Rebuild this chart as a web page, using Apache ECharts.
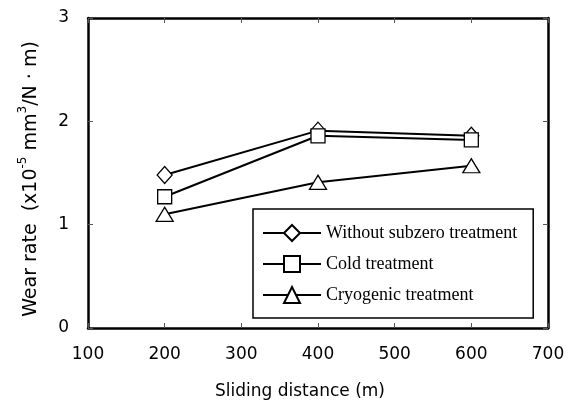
<!DOCTYPE html>
<html>
<head>
<meta charset="utf-8">
<script src="https://cdn.jsdelivr.net/npm/echarts@6/dist/echarts.min.js"></script>
<style>html,body{margin:0;padding:0;background:#fff}#c{width:578px;height:401px}</style>
</head>
<body>
<div id="c"></div>
<script>
// Data
const slidingDistance = [200, 400, 600];
const withoutSubzero = [1.48, 1.91, 1.86];
const coldTreatment = [1.27, 1.86, 1.82];
const cryogenicTreatment = [1.10, 1.41, 1.57];
const seriesNames = ['Without subzero treatment', 'Cold treatment', 'Cryogenic treatment'];
const xTicks = [100, 200, 300, 400, 500, 600, 700];
const yTicks = [0, 1, 2, 3];

const pair = (xs, ys) => xs.map((x, i) => [x, ys[i]]);
const chart = echarts.init(document.getElementById('c'));
const sans = 'DejaVu Sans';
const lineStyle = { color: '#000', width: 2 };
const mkSeries = (name, data, symbol, size) => ({
  name, type: 'line', data, symbol, symbolSize: size,
  lineStyle, itemStyle: { color: '#fff', borderColor: '#000', borderWidth: 1.3 },
  emphasis: { disabled: true }, animation: false
});
const axisCommon = () => ({
  type: 'value', splitLine: { show: false },
  axisLine: { show: true, onZero: false, lineStyle: { color: '#000', width: 2.5 } },
  axisTick: { show: true, inside: true, length: 5, lineStyle: { color: '#555', width: 1 } }
});
chart.setOption({
  animation: false,
  grid: { left: 88, top: 18, right: 30, bottom: 73, outerBoundsMode: 'none', containLabel: false },
  legend: {
    orient: 'vertical', left: 253, top: 209,
    data: seriesNames,
    backgroundColor: '#fff', borderColor: '#000', borderWidth: 1.5,
    padding: [15, 16, 14, 9], itemGap: 13, itemWidth: 58, itemHeight: 20,
    textStyle: { fontFamily: 'Liberation Serif', fontSize: 18, color: '#000' }
  },
  xAxis: [
    Object.assign(axisCommon(), {
      min: xTicks[0], max: xTicks[xTicks.length - 1], interval: 100,
      axisLabel: { fontFamily: sans, fontSize: 17, color: '#000', margin: 18, showMinLabel: true, showMaxLabel: true },
      name: 'Sliding distance (m)', nameLocation: 'middle', nameGap: 55,
      nameTextStyle: { fontFamily: sans, fontSize: 17, color: '#000', padding: [0, 36, 0, 0] }
    }),
    Object.assign(axisCommon(), {
      position: 'top', min: xTicks[0], max: xTicks[xTicks.length - 1], interval: 100,
      axisLabel: { show: false }
    })
  ],
  yAxis: [
    Object.assign(axisCommon(), {
      min: yTicks[0], max: yTicks[yTicks.length - 1], interval: 1,
      axisLabel: { fontFamily: sans, fontSize: 17, color: '#000', margin: 19 },
      name: '{n|Wear rate  (x10}{s|-5}{n| mm}{s|3}{n|/N · m)}',
      nameLocation: 'middle', nameGap: 47, nameRotate: 90,
      nameTextStyle: {
        padding: [0, 12, 0, 0],
        rich: {
          n: { fontFamily: sans, fontSize: 19, color: '#000', lineHeight: 24, verticalAlign: 'bottom' },
          s: { fontFamily: sans, fontSize: 12, color: '#000', lineHeight: 24, verticalAlign: 'top' }
        }
      }
    }),
    Object.assign(axisCommon(), {
      position: 'right', min: yTicks[0], max: yTicks[yTicks.length - 1], interval: 1,
      axisLabel: { show: false }
    })
  ],
  series: [
    mkSeries(seriesNames[0], pair(slidingDistance, withoutSubzero), 'diamond', [15, 17]),
    mkSeries(seriesNames[1], pair(slidingDistance, coldTreatment), 'rect', 14),
    mkSeries(seriesNames[2], pair(slidingDistance, cryogenicTreatment), 'triangle', [17, 14])
  ]
});
</script>
</body>
</html>
